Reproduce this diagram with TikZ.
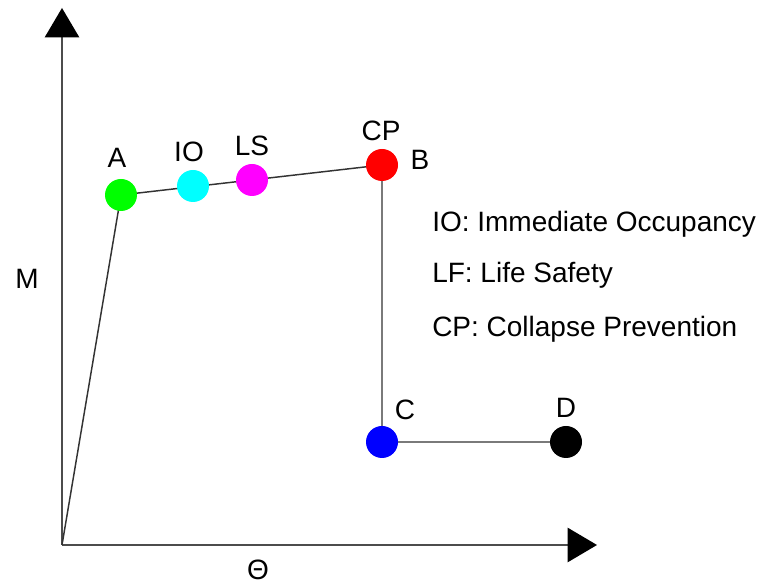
\documentclass[tikz,border=0pt]{standalone}
\usepackage{fontspec}
\setmainfont{Liberation Sans}
\usetikzlibrary{arrows.meta,positioning}

\definecolor{ptgreen}{RGB}{0,255,0}
\definecolor{ptcyan}{RGB}{0,255,255}
\definecolor{ptmagenta}{RGB}{255,0,255}
\definecolor{ptred}{RGB}{255,0,0}
\definecolor{ptblue}{RGB}{0,0,255}

\tikzset{
  pt/.style={circle,inner sep=0pt,minimum size=24pt},
  lbl/.style={font=\fontsize{21}{25}\selectfont,inner sep=0pt},
  axis/.style={draw=black!70,line width=1.5pt,-{Triangle[length=22pt,width=26pt,color=black,fill=black,line width=0pt]}},
  curve/.style={draw=black!80,line width=1.1pt}
}

\begin{document}
\begin{tikzpicture}[x=0.75pt,y=0.75pt]
\useasboundingbox (-62,-39) rectangle (698,545);
% axes
\coordinate (O) at (0,0);
\coordinate (ytip) at (0,537);
\coordinate (xtip) at (535,0);
\path[axis] (O) -- (ytip);
\path[axis] (O) -- (xtip);
\node[lbl] (M) at (-35,266) {M};
\node[lbl] (theta) at (196,-25) {Θ};
% backbone curve
\path[curve] (O) -- (59,350)coordinate(A) -- (320,380)coordinate(B) -- (320,103)coordinate(C) -- (504,103)coordinate(D);
\node[pt,fill=ptgreen] (a) at (A) {};
\node[pt,fill=ptcyan] (io) at (131,359) {};
\node[pt,fill=ptmagenta] (ls) at (190,365) {};
\node[pt,fill=ptred] (b) at (B) {};
\node[pt,fill=ptblue] (c) at (C) {};
\node[pt,fill=black] (d) at (D) {};
% point labels
\node[lbl] (la) at (55,387) {A};
\node[lbl] (lio) at (127,393) {IO};
\node[lbl] (lls) at (190,399) {LS};
\node[lbl] (lcp) at (319,414) {CP};
\node[lbl] (lb) at (358,385) {B};
\node[lbl] (lc) at (343,135) {C};
\node[lbl] (ld) at (504,137) {D};
% legend
\node[lbl,anchor=west] (k1) at (370,321) {IO: Immediate Occupancy};
\node[lbl,anchor=west] (k2) at (370,270) {LF: Life Safety};
\node[lbl,anchor=west] (k3) at (370,216) {CP: Collapse Prevention};
\end{tikzpicture}
\end{document}
